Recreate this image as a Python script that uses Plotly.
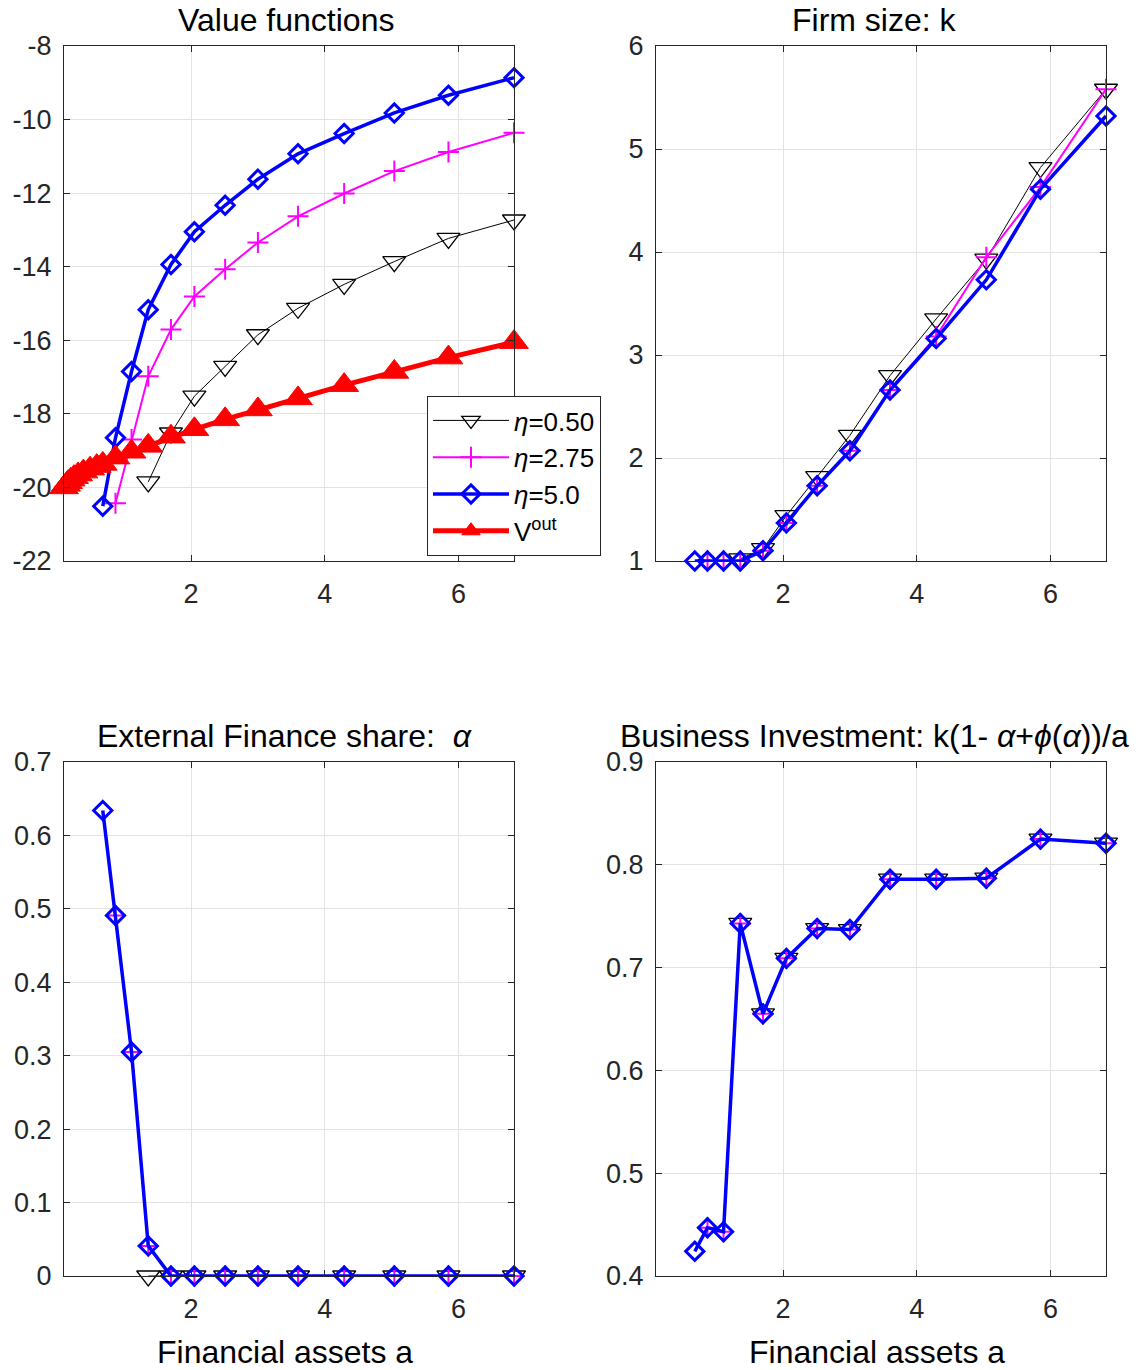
import plotly.graph_objects as go

# ---------------- data ----------------
# financial-asset grid used by the outside value V^out
a_vout = [0.10, 0.13, 0.16, 0.20, 0.25, 0.31, 0.39, 0.49, 0.59, 0.68, 0.87, 1.11,
          1.36, 1.70, 2.05, 2.51, 3.00, 3.60, 4.29, 5.04, 5.85, 6.83]
v_out = [-20.00, -19.93, -19.86, -19.79, -19.72, -19.65, -19.57, -19.49, -19.42, -19.36,
         -19.19, -19.03, -18.87, -18.62, -18.42, -18.15, -17.88, -17.58, -17.22,
         -16.86, -16.47, -16.05]

# grids on which each eta-type entrepreneur operates
a_eta050 = [1.36, 1.70, 2.05, 2.51, 3.00, 3.60, 4.29, 5.04, 5.85, 6.83]
a_eta275 = [0.87, 1.11, 1.36, 1.70, 2.05, 2.51, 3.00, 3.60, 4.29, 5.04, 5.85, 6.83]
a_eta5 = [0.68, 0.87, 1.11, 1.36, 1.70, 2.05, 2.51, 3.00, 3.60, 4.29, 5.04, 5.85, 6.83]

# value functions
v_eta050 = [-19.85, -18.52, -17.52, -16.71, -15.85, -15.13, -14.48, -13.86, -13.23, -12.73]
v_eta275 = [-20.43, -18.70, -16.98, -15.71, -14.81, -14.07, -13.34, -12.63, -12.01,
            -11.40, -10.88, -10.36]
v_eta5 = [-20.51, -18.65, -16.85, -15.17, -13.94, -13.05, -12.33, -11.62, -10.93,
          -10.38, -9.82, -9.34, -8.86]

# firm size k
k_eta050 = [1.02, 1.12, 1.44, 1.82, 2.22, 2.80, 3.35, 3.93, 4.82, 5.58]
k_eta275 = [1.00, 1.00, 1.00, 1.10, 1.37, 1.73, 2.07, 2.66, 3.18, 3.95, 4.63, 5.58]
k_eta5 = [1.00, 1.00, 1.00, 1.00, 1.10, 1.37, 1.73, 2.07, 2.66, 3.16, 3.73, 4.61, 5.32]

# external finance share alpha
alpha_eta050 = [0.0, 0.0, 0.0, 0.0, 0.0, 0.0, 0.0, 0.0, 0.0, 0.0]
alpha_eta275 = [0.491, 0.305, 0.041, 0.0, 0.0, 0.0, 0.0, 0.0, 0.0, 0.0, 0.0, 0.0]
alpha_eta5 = [0.634, 0.491, 0.305, 0.041, 0.0, 0.0, 0.0, 0.0, 0.0, 0.0, 0.0, 0.0, 0.0]

# business investment k(1-alpha+phi(alpha))/a
inv_eta050 = [0.743, 0.655, 0.709, 0.738, 0.737, 0.786, 0.786, 0.787, 0.825, 0.821]
inv_eta275 = [0.447, 0.443, 0.743, 0.655, 0.709, 0.738, 0.737, 0.786, 0.786, 0.787,
              0.825, 0.821]
inv_eta5 = [0.424, 0.447, 0.443, 0.743, 0.655, 0.709, 0.738, 0.737, 0.786, 0.786,
            0.787, 0.825, 0.821]

# axes
x_ticks = [2, 4, 6]
y_ticks_v = [-8, -10, -12, -14, -16, -18, -20, -22]
y_ticks_k = [1, 2, 3, 4, 5, 6]
y_ticks_alpha = [0, 0.1, 0.2, 0.3, 0.4, 0.5, 0.6, 0.7]
y_ticks_inv = [0.4, 0.5, 0.6, 0.7, 0.8, 0.9]

titles = ["Value functions", "Firm size: k",
          "External Finance share:  <i>α</i>",
          "Business Investment: k(1- <i>α</i>+<i>ϕ</i>(<i>α</i>))/a"]
xlabel = "Financial assets a"
legend_names = ["<i>η</i>=0.50", "<i>η</i>=2.75", "<i>η</i>=5.0", "V<sup>out</sup>"]

# ---------------- figure ----------------
W, H = 1142, 1370
FONT = "Liberation Sans, Arial, Helvetica, sans-serif"
AXC = "#262626"
GRID = "#e3e3e3"

styles = {
    "eta050": dict(line=dict(color="black", width=1),
                   marker=dict(symbol="triangle-down-open", size=20, color="black",
                               line=dict(width=1.3, color="black"))),
    "eta275": dict(line=dict(color="#ff00ff", width=2),
                   marker=dict(symbol="cross-thin", size=15, color="#ff00ff",
                               line=dict(width=2, color="#ff00ff"))),
    "eta5": dict(line=dict(color="#0000ff", width=3.5),
                 marker=dict(symbol="diamond-open", size=14, color="#0000ff",
                             line=dict(width=3, color="#0000ff"))),
    "vout": dict(line=dict(color="#ff0000", width=5),
                 marker=dict(symbol="triangle-up", size=25, color="#ff0000",
                             line=dict(width=1, color="#ff0000"))),
}

fig = go.Figure()


def add(ax, x, y, key, name, showlegend):
    s = styles[key]
    fig.add_trace(go.Scatter(
        x=x, y=y, mode="lines+markers", name=name, showlegend=showlegend,
        line=s["line"], marker=s["marker"], cliponaxis=False,
        xaxis="x" if ax == 1 else f"x{ax}", yaxis="y" if ax == 1 else f"y{ax}"))


add(1, a_eta050, v_eta050, "eta050", legend_names[0], True)
add(1, a_eta275, v_eta275, "eta275", legend_names[1], True)
add(1, a_eta5, v_eta5, "eta5", legend_names[2], True)
add(1, a_vout, v_out, "vout", legend_names[3], True)

add(2, a_eta050, k_eta050, "eta050", legend_names[0], False)
add(2, a_eta275, k_eta275, "eta275", legend_names[1], False)
add(2, a_eta5, k_eta5, "eta5", legend_names[2], False)

add(3, a_eta050, alpha_eta050, "eta050", legend_names[0], False)
add(3, a_eta275, alpha_eta275, "eta275", legend_names[1], False)
add(3, a_eta5, alpha_eta5, "eta5", legend_names[2], False)

add(4, a_eta050, inv_eta050, "eta050", legend_names[0], False)
add(4, a_eta275, inv_eta275, "eta275", legend_names[1], False)
add(4, a_eta5, inv_eta5, "eta5", legend_names[2], False)

# panel geometry (pixels)
left_x = (64, 514)
right_x = (656, 1106)
top_y = (46, 561)
bot_y = (762, 1276)


def xdom(px):
    return [px[0] / W, px[1] / W]


def ydom(py):
    return [1 - py[1] / H, 1 - py[0] / H]


def fmt(v):
    return f"{v:g}"


xrange_ = [a_vout[0], a_vout[-1]]
common_x = dict(range=xrange_, tickvals=x_ticks, ticktext=[fmt(v) for v in x_ticks],
                showgrid=True, gridcolor=GRID, gridwidth=1, zeroline=False,
                showline=True, linecolor=AXC, linewidth=1, mirror="ticks",
                ticks="inside", ticklen=6, tickcolor=AXC, tickwidth=1,
                tickfont=dict(family=FONT, size=27, color=AXC),
                ticklabelstandoff=9, automargin=False)
common_y = dict(showgrid=True, gridcolor=GRID, gridwidth=1, zeroline=False,
                showline=True, linecolor=AXC, linewidth=1, mirror="ticks",
                ticks="inside", ticklen=6, tickcolor=AXC, tickwidth=1,
                tickfont=dict(family=FONT, size=27, color=AXC),
                ticklabelstandoff=6, automargin=False)

panels = [
    (1, left_x, top_y, [-22, -8], y_ticks_v),
    (2, right_x, top_y, [1, 6], y_ticks_k),
    (3, left_x, bot_y, [0, 0.7], y_ticks_alpha),
    (4, right_x, bot_y, [0.4, 0.9], y_ticks_inv),
]
layout_axes = {}
for idx, px, py, yr, yt in panels:
    xn = "xaxis" if idx == 1 else f"xaxis{idx}"
    yn = "yaxis" if idx == 1 else f"yaxis{idx}"
    xa = "x" if idx == 1 else f"x{idx}"
    ya = "y" if idx == 1 else f"y{idx}"
    layout_axes[xn] = dict(common_x, domain=xdom(px), anchor=ya)
    layout_axes[yn] = dict(common_y, domain=ydom(py), anchor=xa, range=yr,
                           tickvals=yt, ticktext=[fmt(v) for v in yt])

annotations = []
title_pos = [(286, 20), (875, 20), (284, 736), (874, 736)]
for t, (cx, cy) in zip(titles, title_pos):
    annotations.append(dict(text=t, x=cx / W, y=1 - cy / H, xref="paper", yref="paper",
                            xanchor="center", yanchor="middle", showarrow=False,
                            font=dict(family=FONT, size=32, color="black")))
for cx in [285, 877]:
    annotations.append(dict(text=xlabel, x=cx / W, y=1 - 1352 / H, xref="paper",
                            yref="paper", xanchor="center", yanchor="middle",
                            showarrow=False,
                            font=dict(family=FONT, size=32, color="black")))

fig.update_layout(
    width=W, height=H,
    margin=dict(l=0, r=0, t=0, b=0, pad=0, autoexpand=False),
    paper_bgcolor="white", plot_bgcolor="white",
    annotations=annotations,
    legend=dict(x=427 / W, y=1 - 396 / H, xanchor="left", yanchor="top",
                bgcolor="white", bordercolor=AXC, borderwidth=1,
                font=dict(family=FONT, size=26, color="black"),
                itemwidth=76, tracegroupgap=0),
    **layout_axes,
)

fig.write_html("out.html")
